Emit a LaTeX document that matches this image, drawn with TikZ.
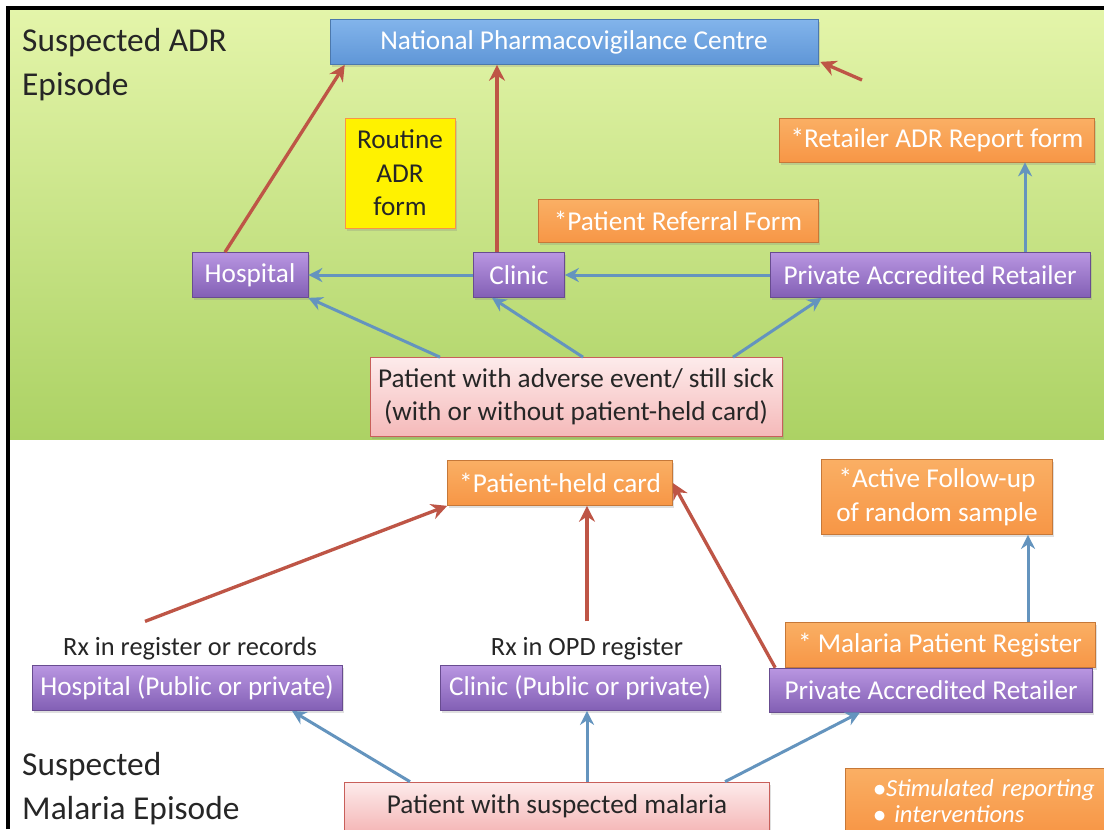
\documentclass[tikz,border=0pt]{standalone}
\usepackage{fontspec}
\setmainfont{Carlito}
\usepackage{tikz}
\usetikzlibrary{arrows.meta,calc,positioning,shadows}

\definecolor{adrgreentop}{RGB}{228,245,170}
\definecolor{adrgreenbot}{RGB}{172,210,100}
\definecolor{npcblue}{RGB}{95,150,215}
\definecolor{npcbluetop}{RGB}{130,180,235}
\definecolor{purpletop}{RGB}{185,150,225}
\definecolor{purplebot}{RGB}{130,95,180}
\definecolor{formorange}{RGB}{247,150,70}
\definecolor{formorangetop}{RGB}{250,175,100}
\definecolor{pinktop}{RGB}{253,235,235}
\definecolor{pinkbot}{RGB}{245,185,185}
\definecolor{pinkline}{RGB}{200,95,90}
\definecolor{redflow}{RGB}{190,85,70}
\definecolor{blueflow}{RGB}{100,148,190}

\begin{document}
\begin{tikzpicture}[x=0.02cm,y=-0.02cm,
    box/.style={rectangle, inner sep=2pt, font=\fontsize{15.5}{19}\selectfont, text=white, minimum height=0.9cm,
        drop shadow={opacity=0.25, shadow xshift=1pt, shadow yshift=-1.5pt}},
    site/.style={box, draw=purplebot!80!black, top color=purpletop, bottom color=purplebot},
    form/.style={box, draw=formorange!80!black, top color=formorangetop, bottom color=formorange},
    patientbox/.style={box, text=black!85, draw=pinkline, top color=pinktop, bottom color=pinkbot, align=center},
    redarrow/.style={draw=redflow, line width=1.9pt, -{Stealth[length=9pt,width=9pt]}},
    bluearrow/.style={draw=blueflow, line width=1.7pt, -{Stealth[length=8pt,width=8pt]}},
    rxlabel/.style={font=\fontsize{15}{18}\selectfont, text=black!85},
    title/.style={anchor=north west, align=left, font=\fontsize{19}{25}\selectfont, text=black!85}]

    \clip (0,0) rectangle (1104,829);
    \fill[white] (0,0) rectangle (1104,829);
    \shade[top color=adrgreentop, bottom color=adrgreenbot] (8,8) rectangle (1104,439);
    \draw[line width=2.5pt] (8,829) -- (8,8) -- (1104,8);

    % suspected ADR episode
    \node[title] (adrtitle) at (16,22) {Suspected ADR\\Episode};
    \node[box, draw=npcblue!80!black, top color=npcbluetop, bottom color=npcblue, minimum width=9.76cm] (npc) at (574,42) {National Pharmacovigilance Centre};
    \node[box, fill=yellow, draw=formorange, text=black!85, align=center, minimum width=2.2cm, minimum height=2.2cm] (routine) at (400,173) {Routine\\ADR\\form};
    \node[form, minimum width=5.6cm, minimum height=0.86cm] (referral) at (678,221) {*Patient Referral Form};
    \node[form, minimum width=6.3cm, minimum height=0.88cm] (retform) at (937,140) {*Retailer ADR Report form};
    \node[site, minimum width=2.32cm] (hosp) at (250,275) {Hospital};
    \node[site, minimum width=1.82cm] (clinic) at (519,275) {Clinic};
    \node[site, minimum width=6.4cm] (retail) at (930,275) {Private Accredited Retailer};
    \node[patientbox, minimum width=8.24cm, minimum height=1.58cm] (patient) at (576,397) {Patient with adverse event/ still sick\\(with or without patient-held card)};
    \coordinate (loose) at (862,80);

    \draw[redarrow] ($(hosp.north)+(-25,0)$) -- ($(npc.south west)+(15,0)$);
    \draw[redarrow] ($(clinic.north)+(-22,0)$) coordinate (c1) -- (c1 |- npc.south);
    \draw[redarrow] (loose) -- ($(npc.south east)+(2,-3)$);
    \draw[bluearrow] (clinic) -- (hosp);
    \draw[bluearrow] (retail) -- (clinic);
    \draw[bluearrow] ($(retail.north)+(95,0)$) coordinate (r1) -- (r1 |- retform.south);
    \draw[bluearrow] ($(patient.north)+(-136,0)$) -- (hosp.south east);
    \draw[bluearrow] ($(patient.north)+(7,0)$) -- ($(clinic.south)+(-27,0)$);
    \draw[bluearrow] ($(patient.north)+(157,0)$) -- ($(retail.south west)+(52,0)$);

    % suspected malaria episode
    \node[title] (maltitle) at (16,746) {Suspected\\Malaria Episode};
    \node[form, minimum width=4.5cm] (card) at (560,483) {*Patient-held card};
    \node[form, align=center, minimum width=4.62cm, minimum height=1.5cm] (follow) at (937,497) {*Active Follow-up\\of random sample};
    \node[site, minimum width=6.2cm] (hosp2) at (187,688) {Hospital (Public or private)};
    \node[site, minimum width=5.6cm] (clinic2) at (580,688) {Clinic (Public or private)};
    \node[form, minimum width=6.2cm] (register) at (940,645) {* Malaria Patient Register};
    \node[site, minimum width=6.46cm, minimum height=0.88cm] (retail2) at (931,690) {Private Accredited Retailer};
    \node[rxlabel] (rx1) at (190,649) {Rx in register or records};
    \node[rxlabel] (rx2) at (587,649) {Rx in OPD register};
    \node[patientbox, minimum width=8.5cm, minimum height=0.96cm] (malaria) at (557,806) {Patient with suspected malaria};
    \node[form, anchor=north west, align=left, text width=5.4cm, minimum height=1.3cm, inner xsep=16pt, inner ysep=3pt, font=\fontsize{14}{14.5}\selectfont\itshape] (stim) at (845,768) {$\bullet$Stimulated reporting\\$\bullet$ interventions};

    \draw[redarrow] ($(rx1.north)+(-45,-10)$) -- (card.south west);
    \draw[redarrow] ($(rx2.north)+(0,-10)$) coordinate (c2) -- (c2 |- card.south);
    \draw[redarrow] ($(retail2.north west)+(6,0)$) -- (card.east);
    \draw[bluearrow] ($(malaria.north)+(-147,0)$) -- ($(hosp2.south)+(105,0)$);
    \draw[bluearrow] ($(malaria.north)+(30,0)$) coordinate (m1) -- (m1 |- clinic2.south);
    \draw[bluearrow] ($(malaria.north)+(168,0)$) -- ($(retail2.south)+(-71,0)$);
    \draw[bluearrow] ($(register.north)+(88,0)$) coordinate (r2) -- (r2 |- follow.south);

\end{tikzpicture}
\end{document}
